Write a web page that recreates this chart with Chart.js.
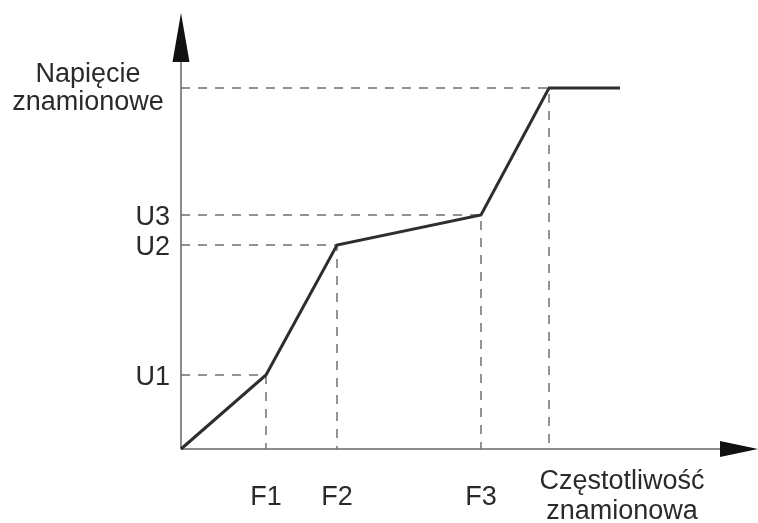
<!DOCTYPE html>
<html>
<head>
<meta charset="utf-8">
<script src="https://cdn.jsdelivr.net/npm/chart.js@4/dist/chart.umd.min.js"></script>
<style>
  html, body { margin: 0; padding: 0; background: #fff; }
  #box { width: 758px; height: 523px; }
</style>
</head>
<body>
<div id="box"><canvas id="wykres" width="758" height="523"></canvas></div>
<script>
// wartosci (jednostki umowne, poczatek ukladu = 0)
const krzywaX = [0, 85, 156, 300, 368, 439];
const krzywaY = [0, 74, 204, 234, 361, 361];

const czestotliwosci = [85, 156, 300, 368];      // F1, F2, F3, f znamionowa
const napiecia       = [74, 204, 234, 361];      // U1, U2, U3, U znamionowe

const etykietyF = ["F1", "F2", "F3"];
const etykietyU = ["U1", "U2", "U3"];
const etykietaUn = ["Napięcie", "znamionowe"];
const etykietaFn = ["Częstotliwość", "znamionowa"];

const maxX = 577;
const maxY = 436;

const FONT = "27px 'Liberation Sans', Arial, sans-serif";
const KOLOR_TEKSTU = "#2a2a2a";

/* linie pomocnicze (przerywane) */
const pomocnicze = czestotliwosci.map((f, i) => ({
    data: [{ x: 0, y: napiecia[i] }, { x: f, y: napiecia[i] }, { x: f, y: 0 }],
    borderColor: "#707070",
    borderWidth: 1.5,
    borderDash: [9, 8],
    pointRadius: 0,
    fill: false,
    clip: false,
    order: 2
}));

/* osie ze strzalkami i podpisy */
const osieIPodpisy = {
    id: "osieIPodpisy",
    beforeDatasetsDraw(chart) {
        const { ctx, scales: { x, y } } = chart;
        const x0 = x.getPixelForValue(0), y0 = y.getPixelForValue(0);
        const yTop = y.getPixelForValue(maxY), xEnd = x.getPixelForValue(maxX);

        ctx.save();
        ctx.strokeStyle = "#8c8c8c";
        ctx.lineWidth = 2;
        ctx.beginPath();
        ctx.moveTo(x0, y0);
        ctx.lineTo(x0, yTop + 45);
        ctx.moveTo(x0, y0);
        ctx.lineTo(xEnd - 35, y0);
        ctx.stroke();

        ctx.fillStyle = "#111";
        ctx.beginPath();
        ctx.moveTo(x0, yTop);
        ctx.lineTo(x0 - 8.5, yTop + 49);
        ctx.lineTo(x0 + 8.5, yTop + 49);
        ctx.closePath();
        ctx.fill();

        ctx.beginPath();
        ctx.moveTo(xEnd, y0);
        ctx.lineTo(xEnd - 38, y0 - 8);
        ctx.lineTo(xEnd - 38, y0 + 8);
        ctx.closePath();
        ctx.fill();
        ctx.restore();
    },
    afterDraw(chart) {
        const { ctx, scales: { x, y } } = chart;
        ctx.save();
        ctx.font = FONT;
        ctx.fillStyle = KOLOR_TEKSTU;
        ctx.textBaseline = "middle";

        ctx.textAlign = "right";
        etykietyU.forEach((t, i) => {
            ctx.fillText(t, 170, y.getPixelForValue(napiecia[i]) + 3);
        });

        ctx.textAlign = "center";
        const yUn = y.getPixelForValue(napiecia[3]);
        ctx.fillText(etykietaUn[0], 88, yUn - 13);
        ctx.fillText(etykietaUn[1], 88, yUn + 15);

        etykietyF.forEach((t, i) => {
            ctx.fillText(t, x.getPixelForValue(czestotliwosci[i]), 498);
        });
        const xFn = x.getPixelForValue(krzywaX[krzywaX.length - 1]) + 2;
        ctx.fillText(etykietaFn[0], xFn, 482);
        ctx.fillText(etykietaFn[1], xFn, 512);
        ctx.restore();
    }
};

new Chart(document.getElementById("wykres"), {
    type: "line",
    data: {
        datasets: [
            {
                data: krzywaX.map((v, i) => ({ x: v, y: krzywaY[i] })),
                borderColor: "#2e2e2e",
                borderWidth: 3,
                pointRadius: 0,
                fill: false,
                clip: false,
                order: 1
            },
            ...pomocnicze
        ]
    },
    options: {
        responsive: false,
        animation: false,
        events: [],
        layout: { padding: { left: 181, right: 0, top: 13, bottom: 74 } },
        plugins: { legend: { display: false }, tooltip: { enabled: false } },
        scales: {
            x: { type: "linear", min: 0, max: maxX, display: false },
            y: { type: "linear", min: 0, max: maxY, display: false }
        }
    },
    plugins: [osieIPodpisy]
});
</script>
</body>
</html>
